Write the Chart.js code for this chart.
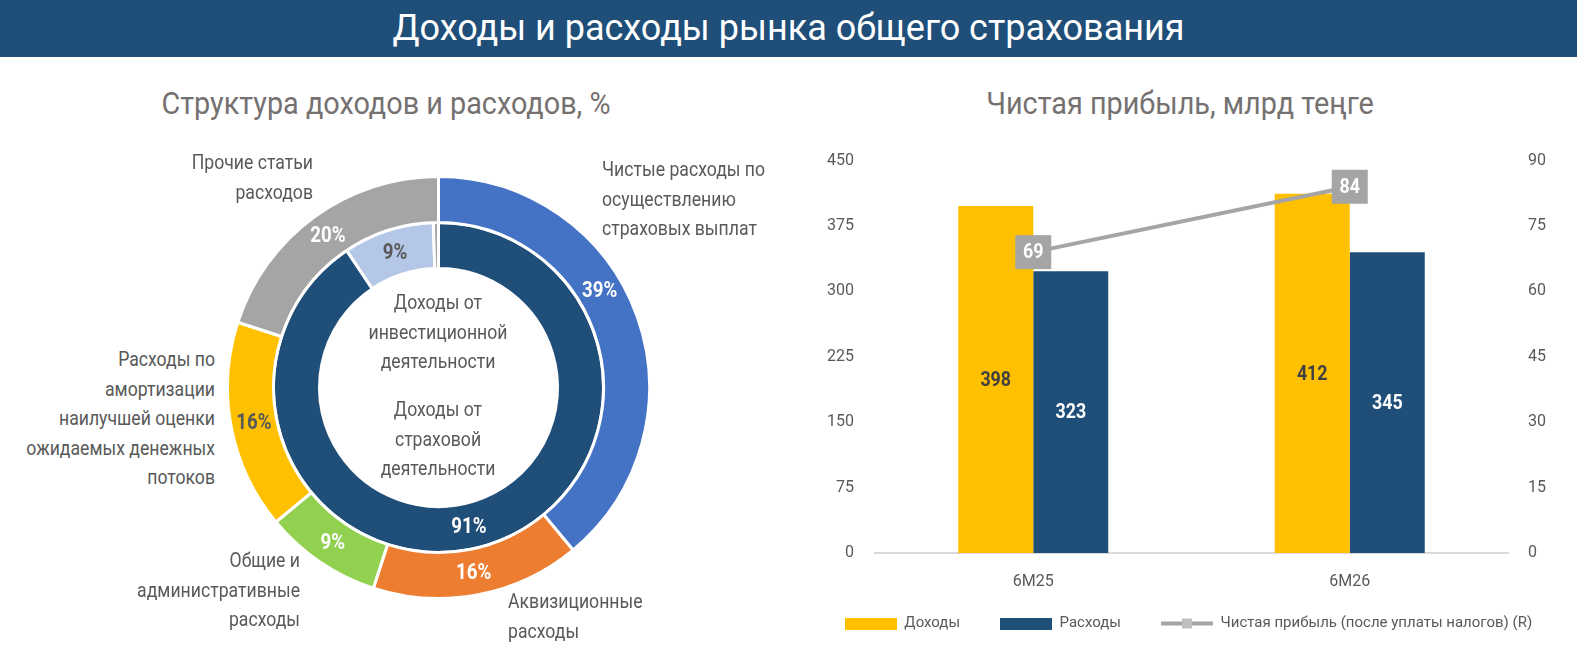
<!DOCTYPE html>
<html lang="ru">
<head>
<meta charset="utf-8">
<title>Доходы и расходы рынка общего страхования</title>
<script src="https://cdn.jsdelivr.net/npm/chart.js@4.4.1/dist/chart.umd.min.js"></script>
<style>
  html, body { margin: 0; padding: 0; background: #fff; }
  body {
    width: 1577px; height: 654px; position: relative; overflow: hidden;
    font-family: Roboto, "Liberation Sans", sans-serif;
    color: #595959;
  }
  #header {
    position: absolute; left: 0; top: 0; width: 1577px; height: 57px;
    background: #1F4E79; color: #fff; text-align: center;
    font-size: 36px; line-height: 57px;
  }
  .subtitle {
    position: absolute; top: 80px; width: 600px; text-align: center;
    font-size: 32px; line-height: 46px; color: #767171;
    transform: scaleX(0.9); transform-origin: center;
  }
  .lbl { position: absolute; font-size: 21px; line-height: 29.5px; white-space: nowrap; width: 240px; }
  .l { transform: scaleX(0.84); transform-origin: left; }
  .r { text-align: right; transform: scaleX(0.84); transform-origin: right; }
  .c { text-align: center; transform: scaleX(0.84); transform-origin: center; }
  .box { position: absolute; }
</style>
</head>
<body>
<div id="header">Доходы и расходы рынка общего страхования</div>
<div class="subtitle" style="left:86px">Структура доходов и расходов, %</div>
<div class="subtitle" style="left:880px">Чистая прибыль, млрд теңге</div>

<div class="box" style="left:226px; top:175px; width:425px; height:425px;">
  <canvas id="structureChart"></canvas>
</div>
<div class="box" style="left:760px; top:130px; width:857px; height:528px;">
  <canvas id="profitChart"></canvas>
</div>

<div class="lbl r" style="left:73px; top:148px">Прочие статьи<br>расходов</div>
<div class="lbl r" style="left:-25px; top:345px">Расходы по<br>амортизации<br>наилучшей оценки<br>ожидаемых денежных<br>потоков</div>
<div class="lbl r" style="left:60px; top:546px">Общие и<br>административные<br>расходы</div>
<div class="lbl l" style="left:508px; top:587px">Аквизиционные<br>расходы</div>
<div class="lbl l" style="left:602px; top:155px">Чистые расходы по<br>осуществлению<br>страховых выплат</div>
<div class="lbl c" style="left:318px; top:288px">Доходы от<br>инвестиционной<br>деятельности</div>
<div class="lbl c" style="left:318px; top:395px">Доходы от<br>страховой<br>деятельности</div>

<script>
const FONT = 'Roboto, "Liberation Sans", sans-serif';
Chart.defaults.font.family = FONT;
Chart.defaults.color = '#595959';

// структура расходов (внешнее кольцо), %
const expenseLabels = ['Чистые расходы по осуществлению страховых выплат', 'Аквизиционные расходы',
  'Общие и административные расходы', 'Расходы по амортизации наилучшей оценки ожидаемых денежных потоков',
  'Прочие статьи расходов'];
const expenseShares = [39, 16, 9, 16, 20];

// структура доходов (внутреннее кольцо), %
const incomeLabels = ['Доходы от страховой деятельности', 'Доходы от инвестиционной деятельности', 'Прочие доходы'];
const incomeShares = [90.6, 8.9, 0.5];

// чистая прибыль, млрд теңге
const periods = ['6M25', '6M26'];
const revenue = [398, 412];
const expenses = [323, 345];
const netProfit = [69, 84];
const leftTicks = [0, 75, 150, 225, 300, 375, 450];
const rightTicks = [0, 15, 30, 45, 60, 75, 90];

const expenseColors = ['#4472C4', '#ED7D31', '#92D050', '#FFC000', '#A5A5A5'];
const expenseTextColors = ['#fff', '#fff', '#fff', '#595959', '#fff'];
const incomeColors = ['#1F4E79', '#B4C7E7', '#A5A5A5'];
const incomeTextColors = ['#fff', '#595959', '#595959'];
// где по дуге сектора ставить подпись (0.5 = середина)
const expenseLabelAt = [0.42, 0.5, 0.5, 0.5, 0.5];
const incomeLabelAt = [0.514, 0.5, 0.5];

// узкий текст на канве (шрифт в оригинале сжатый)
function narrowText(ctx, txt, x, y, sx) {
  ctx.save();
  ctx.translate(x, y);
  ctx.scale(sx, 1);
  ctx.fillText(txt, 0, 0);
  ctx.restore();
}

// подписи процентов на кольцах
const sliceLabels = {
  id: 'sliceLabels',
  afterDatasetsDraw(chart) {
    const ctx = chart.ctx;
    ctx.save();
    ctx.font = 'bold 22px ' + FONT;
    ctx.textAlign = 'center';
    ctx.textBaseline = 'middle';
    chart.data.datasets.forEach((ds, i) => {
      chart.getDatasetMeta(i).data.forEach((arc, j) => {
        if (ds.data[j] < 2) return;
        const p = arc.getProps(['x', 'y', 'startAngle', 'endAngle', 'innerRadius', 'outerRadius']);
        const a = p.startAngle + (p.endAngle - p.startAngle) * ds.labelAt[j];
        const r = (p.innerRadius + p.outerRadius) / 2;
        ctx.fillStyle = ds.textColors[j];
        narrowText(ctx, Math.round(ds.data[j]) + '%', p.x + Math.cos(a) * r, p.y + Math.sin(a) * r + 1, 0.85);
      });
    });
    ctx.restore();
  }
};

new Chart(document.getElementById('structureChart'), {
  type: 'doughnut',
  data: {
    labels: expenseLabels,
    datasets: [
      { label: 'Расходы', data: expenseShares, backgroundColor: expenseColors, textColors: expenseTextColors,
        labelAt: expenseLabelAt, borderColor: '#fff', borderWidth: 3 },
      { label: 'Доходы', data: incomeShares, backgroundColor: incomeColors, textColors: incomeTextColors,
        labelAt: incomeLabelAt, borderColor: '#fff', borderWidth: 3 }
    ]
  },
  options: {
    responsive: true,
    maintainAspectRatio: false,
    animation: false,
    cutout: '56.4%',
    plugins: { legend: { display: false }, tooltip: { enabled: false } }
  },
  plugins: [sliceLabels]
});

// значения на столбцах и на линии
const barLabels = {
  id: 'barLabels',
  afterDatasetsDraw(chart) {
    const ctx = chart.ctx;
    ctx.save();
    ctx.font = 'bold 21px ' + FONT;
    ctx.textAlign = 'center';
    ctx.textBaseline = 'middle';
    chart.data.datasets.forEach((ds, i) => {
      chart.getDatasetMeta(i).data.forEach((el, j) => {
        const txt = String(ds.data[j]);
        if (ds.type === 'line') {
          ctx.fillStyle = '#A5A5A5';
          ctx.fillRect(el.x - 18, el.y - 17, 36, 34);
          ctx.fillStyle = '#fff';
          narrowText(ctx, txt, el.x, el.y + 1, 0.85);
        } else {
          ctx.fillStyle = ds.textColor;
          narrowText(ctx, txt, el.x, (el.y + el.base) / 2 + 1, 0.85);
        }
      });
    });
    ctx.restore();
  }
};

// легенда выше, чем ставит раскладка
const legendShift = {
  id: 'legendShift',
  afterLayout(chart) {
    chart.legend.top -= 17;
    chart.legend.bottom -= 17;
  }
};

function legendIcon(kind, color) {
  const c = document.createElement('canvas');
  c.width = 52; c.height = 12;
  const g = c.getContext('2d');
  if (kind === 'bar') {
    g.fillStyle = color;
    g.fillRect(0, 0, 52, 12);
  } else {
    g.fillStyle = '#A5A5A5';
    g.fillRect(0, 4, 52, 4);
    g.fillStyle = '#BFBFBF';
    g.fillRect(21, 1, 10, 10);
  }
  return c;
}
const legendIcons = [legendIcon('bar', '#FFC000'), legendIcon('bar', '#1F4E79'), legendIcon('line')];

const tickFont = { family: FONT, size: 16 };

new Chart(document.getElementById('profitChart'), {
  data: {
    labels: periods,
    datasets: [
      { type: 'bar', label: 'Доходы', data: revenue, backgroundColor: '#FFC000', textColor: '#404040',
        yAxisID: 'y', order: 1, categoryPercentage: 0.474, barPercentage: 1 },
      { type: 'bar', label: 'Расходы', data: expenses, backgroundColor: '#1F4E79', textColor: '#fff',
        yAxisID: 'y', order: 1, categoryPercentage: 0.474, barPercentage: 1 },
      { type: 'line', label: 'Чистая прибыль (после уплаты налогов) (R)', data: netProfit,
        borderColor: '#A5A5A5', backgroundColor: '#BFBFBF', borderWidth: 4,
        pointStyle: 'rect', pointRadius: 5, yAxisID: 'y1', order: 0 }
    ]
  },
  options: {
    responsive: true,
    maintainAspectRatio: false,
    animation: false,
    layout: { padding: { top: 8, bottom: 0, left: 0, right: 0 } },
    scales: {
      x: {
        grid: { display: false, drawTicks: false },
        border: { display: true, color: '#D9D9D9', width: 2 },
        ticks: { color: '#595959', font: tickFont, padding: 19 },
        afterFit: s => { s.height = 40; }
      },
      y: {
        position: 'left', min: leftTicks[0], max: leftTicks[leftTicks.length - 1],
        grid: { display: false, drawTicks: false }, border: { display: false },
        ticks: { color: '#595959', font: tickFont, padding: 21 },
        afterBuildTicks: s => { s.ticks = leftTicks.map(v => ({ value: v })); },
        afterFit: s => { s.width = 115; }
      },
      y1: {
        position: 'right', min: rightTicks[0], max: rightTicks[rightTicks.length - 1],
        grid: { display: false, drawTicks: false }, border: { display: false },
        ticks: { color: '#595959', font: tickFont, padding: 20 },
        afterBuildTicks: s => { s.ticks = rightTicks.map(v => ({ value: v })); },
        afterFit: s => { s.width = 109; }
      }
    },
    plugins: {
      tooltip: { enabled: false },
      legend: {
        position: 'bottom',
        labels: {
          usePointStyle: true,
          pointStyleWidth: 52,
          boxHeight: 12,
          padding: 40,
          color: '#595959',
          font: { family: FONT, size: 15 },
          generateLabels(chart) {
            const items = Chart.defaults.plugins.legend.labels.generateLabels(chart);
            items.sort((a, b) => a.datasetIndex - b.datasetIndex);
            items.forEach(it => { it.pointStyle = legendIcons[it.datasetIndex]; });
            return items;
          }
        }
      }
    }
  },
  plugins: [barLabels, legendShift]
});
</script>
</body>
</html>
